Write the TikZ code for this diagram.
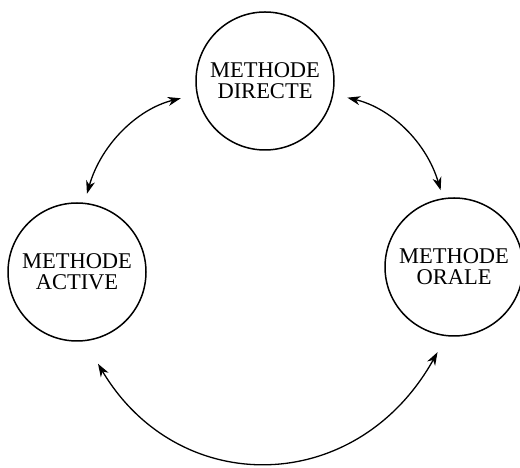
\documentclass[tikz,border=0pt]{standalone}
\usepackage{fontspec}
\setmainfont{Liberation Serif}
\usetikzlibrary{arrows.meta}
\begin{document}
\begin{tikzpicture}[x=1pt,y=1pt,>={Stealth[length=13pt,width=9pt,inset=4pt]},line join=round,line cap=round,
	methode/.style={draw,circle,line width=1.5pt,minimum size=138pt,inner sep=0pt,outer sep=0pt,align=center,font=\fontsize{22.5}{21}\selectfont},
	lien/.style={<->,line width=1.3pt}]
		\useasboundingbox (0,0) rectangle (520,468);
		\node[methode] (dir) at (265,387) {METHODE\\DIRECTE};
		\node[methode] (act) at (77,196) {METHODE\\ACTIVE};
		\node[methode] (ora) at (454,201) {METHODE\\ORALE};
		\draw[lien,shorten <=10pt,shorten >=17pt] (act.84) to[bend left=30] (dir.191);
		\draw[lien,shorten <=15pt,shorten >=9pt] (dir.349) to[bend left=30] (ora.99);
		\draw[lien,shorten <=27pt,shorten >=19pt] (act.276) to[bend right=60,looseness=1.3] (ora.264);
		\end{tikzpicture}
\end{document}
